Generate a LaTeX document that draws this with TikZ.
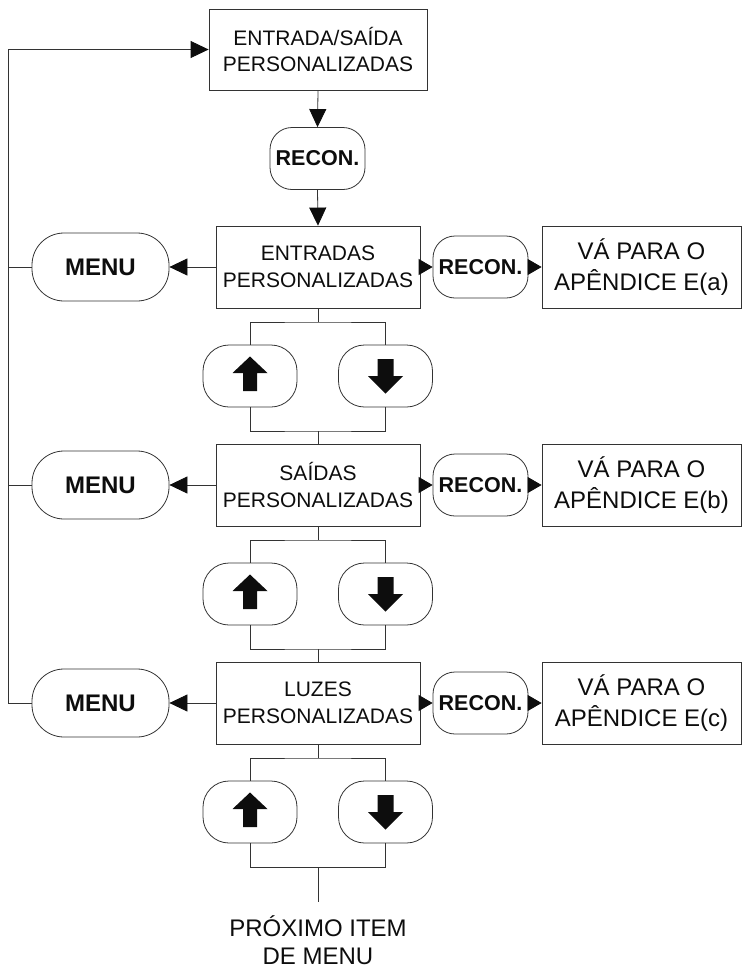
\documentclass[tikz,border=0pt]{standalone}
\usepackage{fontspec}
\setmainfont{Liberation Sans}
\usetikzlibrary{arrows.meta}
\begin{document}
\begin{tikzpicture}[x=1pt,y=-1pt,line width=0.8pt,color=black!80,
  lbl/.style={text=black!95,inner sep=0pt},
  topbox/.style={lbl,draw,rectangle,minimum width=218pt,minimum height=81pt,align=center,font=\fontsize{21}{26}\selectfont},
  secbox/.style={lbl,draw,rectangle,minimum width=204pt,minimum height=82pt,align=center,font=\fontsize{21}{27}\selectfont},
  vabox/.style={lbl,draw,rectangle,minimum width=199pt,minimum height=82pt,align=center,font=\fontsize{24}{31}\selectfont},
  rec/.style={lbl,draw,rounded corners=22pt,minimum width=95pt,minimum height=62pt,font=\bfseries\fontsize{21.5}{25}\selectfont},
  menus/.style={lbl,draw,rounded corners=32pt,minimum width=137pt,minimum height=68pt,font=\bfseries\fontsize{24}{28}\selectfont},
  btn/.style={draw,rounded corners=26pt,minimum width=94pt,minimum height=62pt,inner sep=0pt},
  nexttxt/.style={lbl,align=center,inner ysep=13pt,font=\fontsize{24}{28}\selectfont},
  arr/.style={-{Triangle[length=18pt,width=17pt,color=black!95]}},
  sarr/.style={-{Triangle[length=14pt,width=16pt,color=black!95]}}]
\useasboundingbox (0,0) rectangle (742,972);

\node[topbox] (top) at (318,49.5) {ENTRADA/SAÍDA\\PERSONALIZADAS};
\node[rec] (rec0) at (317.5,158.5) {RECON.};
\draw[arr] (top.south) -- (rec0.north);

\foreach \i/\c/\t/\l in {1/267/ENTRADAS/a,2/485/SAÍDAS/b,3/703/LUZES/c}{
  \node[secbox] (box\i) at (318,\c) {\t\\PERSONALIZADAS};
  \node[menus] (menu\i) at (100.5,\c) {MENU};
  \node[rec] (rec\i) at (480.5,\c) {RECON.};
  \node[vabox] (va\i) at (641.5,\c) {VÁ PARA O\\APÊNDICE E(\l)};
  \node[btn] (up\i) at (250,\c+109) {};
  \node[btn] (dn\i) at (385.5,\c+109) {};
  \coordinate (s\i) at (318,\c+55);
  \coordinate (j\i) at (318,\c+164);
  \draw (box\i.south) -- (s\i);
  \draw (up\i.north) |- (s\i) -| (dn\i.north);
  \draw (up\i.south) |- (j\i) -| (dn\i.south);
  \draw[arr] (box\i.west) -- (menu\i.east);
  \draw[sarr] (box\i.east) -- (rec\i.west);
  \draw[sarr] (rec\i.east) -- (va\i.west);
  \fill[black!95,shift={(up\i.center)}] (0,-19.5) -- (17.5,-3) -- (7,-3) -- (7,15) -- (-7,15) -- (-7,-3) -- (-17.5,-3) -- cycle;
  \fill[black!95,shift={(dn\i.center)}] (0,17.5) -- (17.5,0) -- (8,0) -- (8,-17) -- (-8,-17) -- (-8,0) -- (-17.5,0) -- cycle;
}
\draw[arr] (rec0.south) -- (box1.north);
\draw (j1) -- (box2.north);
\draw (j2) -- (box3.north);
\node[nexttxt,anchor=north] (next) at (318,902) {PRÓXIMO ITEM\\DE MENU};
\draw (j3) -- (next.north);

\coordinate (Ltop) at (8,49.5);
\draw[arr] (menu3.west) -| (Ltop) -- (top.west);
\draw (menu1.west) -- (menu1.west -| Ltop);
\draw (menu2.west) -- (menu2.west -| Ltop);
\end{tikzpicture}
\end{document}
